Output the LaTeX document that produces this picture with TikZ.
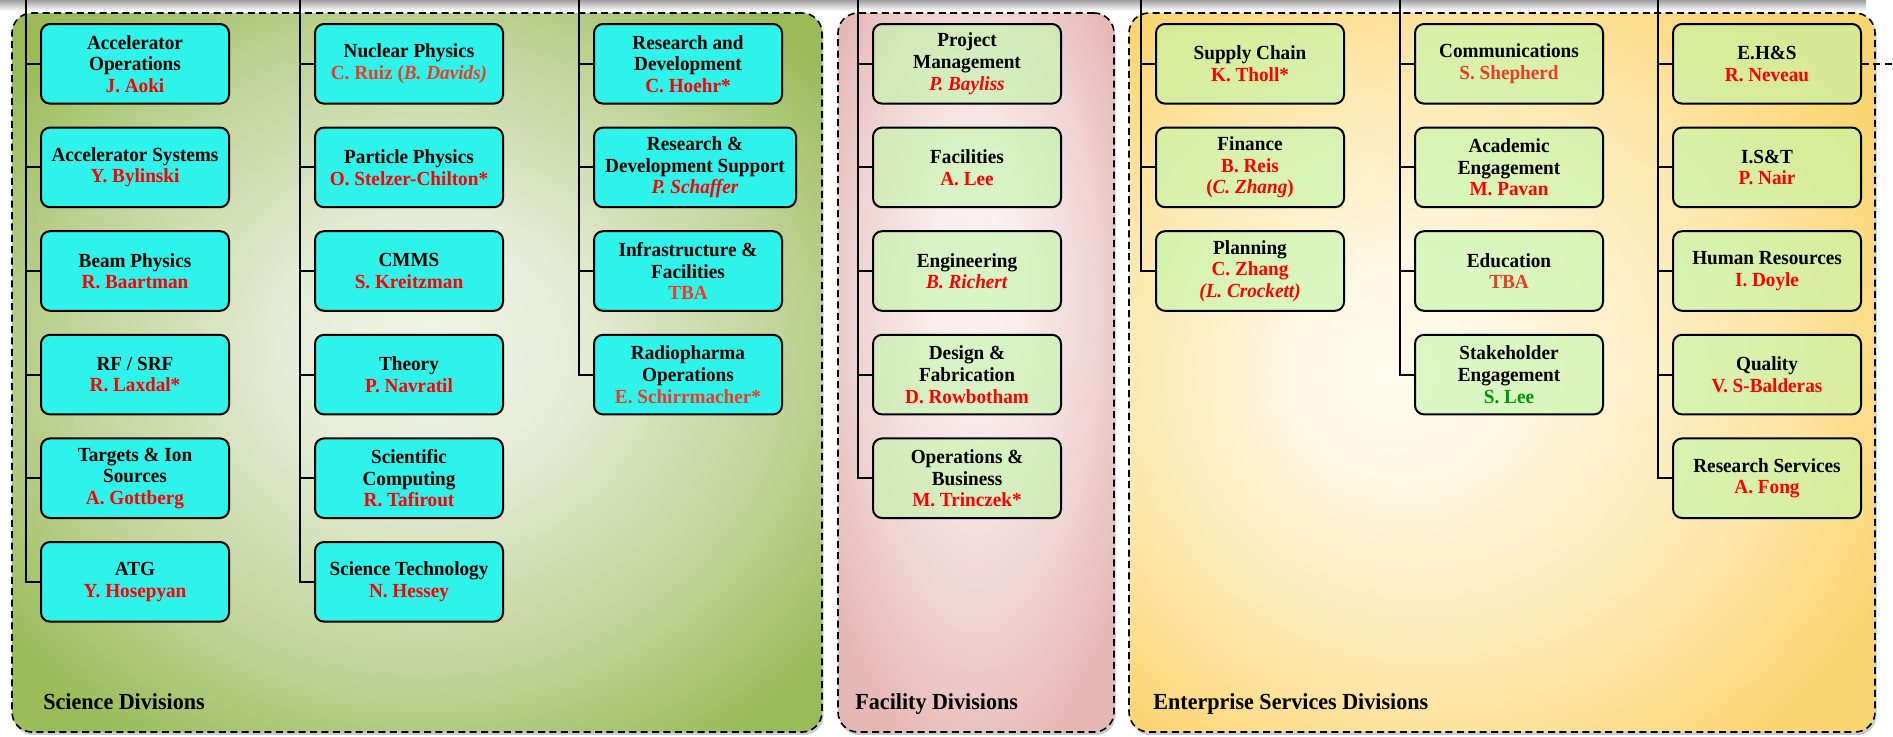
\documentclass[tikz,border=0pt]{standalone}
\usepackage{fontspec}
\setmainfont{Liberation Serif}[FakeStretch=0.96]
\usetikzlibrary{positioning,shadows}

\definecolor{scicyan}{RGB}{46,243,235}
\definecolor{divgreen}{RGB}{193,247,170}
\definecolor{namered}{RGB}{255,0,0}
\definecolor{nameorange}{RGB}{238,59,36}
\definecolor{namegreen}{RGB}{0,150,0}
\definecolor{sciedge}{RGB}{155,187,89}
\definecolor{scictr}{RGB}{240,243,232}
\definecolor{facedge}{RGB}{229,183,182}
\definecolor{facctr}{RGB}{252,244,244}
\definecolor{entedge}{RGB}{250,214,115}
\definecolor{entctr}{RGB}{255,251,238}
\colorlet{scimidA}{scictr!90!sciedge}
\colorlet{scimidB}{scictr!45!sciedge}
\colorlet{facmidA}{facctr!90!facedge}
\colorlet{facmidB}{facctr!45!facedge}
\colorlet{entmidA}{entctr!90!entedge}
\colorlet{entmidB}{entctr!45!entedge}

% panel backgrounds: light centre, saturated rim
\pgfdeclareradialshading{scishade}{\pgfpoint{1bp}{2bp}}{color(0bp)=(scictr); color(8bp)=(scimidA); color(22bp)=(scimidB); color(32bp)=(sciedge); color(50bp)=(sciedge)}
\pgfdeclareradialshading{facshade}{\pgfpoint{0bp}{8bp}}{color(0bp)=(facctr); color(8bp)=(facmidA); color(22bp)=(facmidB); color(32bp)=(facedge); color(50bp)=(facedge)}
\pgfdeclareradialshading{entshade}{\pgfpoint{-8bp}{0bp}}{color(0bp)=(entctr); color(8bp)=(entmidA); color(22bp)=(entmidB); color(32bp)=(entedge); color(50bp)=(entedge)}

\newcommand{\rname}[1]{\textcolor{namered}{#1}}
\newcommand{\oname}[1]{\textcolor{nameorange}{#1}}
\newcommand{\gname}[1]{\textcolor{namegreen}{#1}}

\begin{document}
\begin{tikzpicture}[
  x=0.5pt, y=-0.5pt,
  font=\fontsize{10}{10.8}\selectfont\bfseries,
  unit/.style={rectangle, rounded corners=4.5pt, draw=black, line width=1pt,
               align=center, inner sep=2pt, minimum width=94pt, minimum height=39.8pt},
  sci/.style={unit, fill=scicyan},
  div/.style={unit, fill=divgreen, fill opacity=0.6, text opacity=1},
  panel/.style={rectangle, rounded corners=10pt, draw=black, line width=0.8pt,
                dash pattern=on 3.5pt off 2.2pt, inner sep=0pt,
                drop shadow={shadow xshift=0.8pt, shadow yshift=-1.6pt, opacity=0.4}},
  paneltitle/.style={anchor=base west, inner sep=0pt, font=\fontsize{11.5}{13}\selectfont\bfseries},
  trunk/.style={draw=black, line width=1pt},
]
\useasboundingbox (0,0) rectangle (1893,736);

% ---- shadow strip of the level above ----
\shade[top color=gray!75, bottom color=white] (0,0) rectangle (1866,11);

% ---- division panels ----
\node[panel, shading=scishade, minimum width=405pt, minimum height=359.5pt] (science) at (417,372.5) {};
\node[panel, shading=facshade, minimum width=138pt, minimum height=359.5pt] (facility) at (976,372.5) {};
\node[panel, shading=entshade, minimum width=373pt, minimum height=359.5pt] (enterprise) at (1502,372.5) {};

\node[paneltitle] (scilbl) at (43,709) {Science Divisions};
\node[paneltitle] (faclbl) at (855,709) {Facility Divisions};
\node[paneltitle] (entlbl) at (1153,709) {Enterprise Services Divisions};

% ---- science, first column ----
\node[sci, anchor=north west] (aops) at (40,23) {Accelerator\\Operations\\\rname{J. Aoki}};
\node[sci, below=11pt of aops] (asys) {Accelerator Systems\\\rname{Y. Bylinski}};
\node[sci, below=11pt of asys] (beam) {Beam Physics\\\rname{R. Baartman}};
\node[sci, below=11pt of beam] (rf) {RF / SRF\\\rname{R. Laxdal*}};
\node[sci, below=11pt of rf] (tis) {Targets \& Ion\\Sources\\\rname{A. Gottberg}};
\node[sci, below=11pt of tis] (atg) {ATG\\\rname{Y. Hosepyan}};

% ---- science, second column ----
\node[sci, anchor=north west] (nuc) at (314,23) {Nuclear Physics\\\oname{C. Ruiz (\textit{B. Davids)}}};
\node[sci, below=11pt of nuc] (part) {Particle Physics\\\rname{O. Stelzer-Chilton*}};
\node[sci, below=11pt of part] (cmms) {CMMS\\\rname{S. Kreitzman}};
\node[sci, below=11pt of cmms] (theory) {Theory\\\rname{P. Navratil}};
\node[sci, below=11pt of theory] (scomp) {Scientific\\Computing\\\rname{R. Tafirout}};
\node[sci, below=11pt of scomp] (stech) {Science Technology\\\rname{N. Hessey}};

% ---- science, third column ----
\node[sci, anchor=north west] (rnd) at (593,23) {Research and\\Development\\\rname{C. Hoehr*}};
\node[sci, below right=11pt and 0pt of rnd.south west, minimum width=101pt] (rnds) {Research \&\\Development Support\\\rname{\textit{P. Schaffer}}};
\node[sci, below right=11pt and 0pt of rnds.south west] (infra) {Infrastructure \&\\Facilities\\\oname{TBA}};
\node[sci, below right=11pt and 0pt of infra.south west] (rpo) {Radiopharma\\Operations\\\oname{E. Schirrmacher*}};

% ---- facility ----
\node[div, anchor=north west] (pm) at (872,23) {Project\\Management\\\rname{\textit{P. Bayliss}}};
\node[div, below=11pt of pm] (fac) {Facilities\\\rname{A. Lee}};
\node[div, below=11pt of fac] (eng) {Engineering\\\rname{\textit{B. Richert}}};
\node[div, below=11pt of eng] (dfab) {Design \&\\Fabrication\\\rname{D. Rowbotham}};
\node[div, below=11pt of dfab] (opsb) {Operations \&\\Business\\\rname{M. Trinczek*}};

% ---- enterprise services ----
\node[div, anchor=north west] (supply) at (1155,23) {Supply Chain\\\rname{K. Tholl*}};
\node[div, below=11pt of supply] (fin) {Finance\\\rname{B. Reis}\\\rname{(\textit{C. Zhang})}};
\node[div, below=11pt of fin] (plan) {Planning\\\rname{C. Zhang}\\\rname{\textit{(L. Crockett)}}};

\node[div, anchor=north west] (comm) at (1414,23) {Communications\\\oname{S. Shepherd}};
\node[div, below=11pt of comm] (acad) {Academic\\Engagement\\\rname{M. Pavan}};
\node[div, below=11pt of acad] (edu) {Education\\\oname{TBA}};
\node[div, below=11pt of edu] (stake) {Stakeholder\\Engagement\\\gname{S. Lee}};

\node[div, anchor=north west] (ehs) at (1672,23) {E.H\&S\\\rname{R. Neveau}};
\node[div, below=11pt of ehs] (ist) {I.S\&T\\\rname{P. Nair}};
\node[div, below=11pt of ist] (hr) {Human Resources\\\rname{I. Doyle}};
\node[div, below=11pt of hr] (qual) {Quality\\\rname{V. S-Balderas}};
\node[div, below=11pt of qual] (rserv) {Research Services\\\rname{A. Fong}};

% ---- reporting lines ----
\coordinate (scitopA) at (26,0);
\coordinate (scitopB) at (300,0);
\coordinate (scitopC) at (579,0);
\coordinate (factop) at (858,0);
\coordinate (enttopA) at (1141,0);
\coordinate (enttopB) at (1400,0);
\coordinate (enttopC) at (1658,0);
\coordinate (offpage) at (1893,0);

\draw[trunk] (scitopA) |- (atg.west);
\foreach \b in {aops,asys,beam,rf,tis} \draw[trunk] (scitopA |- \b.west) -- (\b.west);
\draw[trunk] (scitopB) |- (stech.west);
\foreach \b in {nuc,part,cmms,theory,scomp} \draw[trunk] (scitopB |- \b.west) -- (\b.west);
\draw[trunk] (scitopC) |- (rpo.west);
\foreach \b in {rnd,rnds,infra} \draw[trunk] (scitopC |- \b.west) -- (\b.west);
\draw[trunk] (factop) |- (opsb.west);
\foreach \b in {pm,fac,eng,dfab} \draw[trunk] (factop |- \b.west) -- (\b.west);
\draw[trunk] (enttopA) |- (plan.west);
\foreach \b in {supply,fin} \draw[trunk] (enttopA |- \b.west) -- (\b.west);
\draw[trunk] (enttopB) |- (stake.west);
\foreach \b in {comm,acad,edu} \draw[trunk] (enttopB |- \b.west) -- (\b.west);
\draw[trunk] (enttopC) |- (rserv.west);
\foreach \b in {ehs,ist,hr,qual} \draw[trunk] (enttopC |- \b.west) -- (\b.west);

% dashed link leaving to the right
\draw[trunk, line width=0.8pt, dash pattern=on 3.5pt off 2.2pt] (ehs.east) -- (ehs.east -| offpage);
\end{tikzpicture}
\end{document}
